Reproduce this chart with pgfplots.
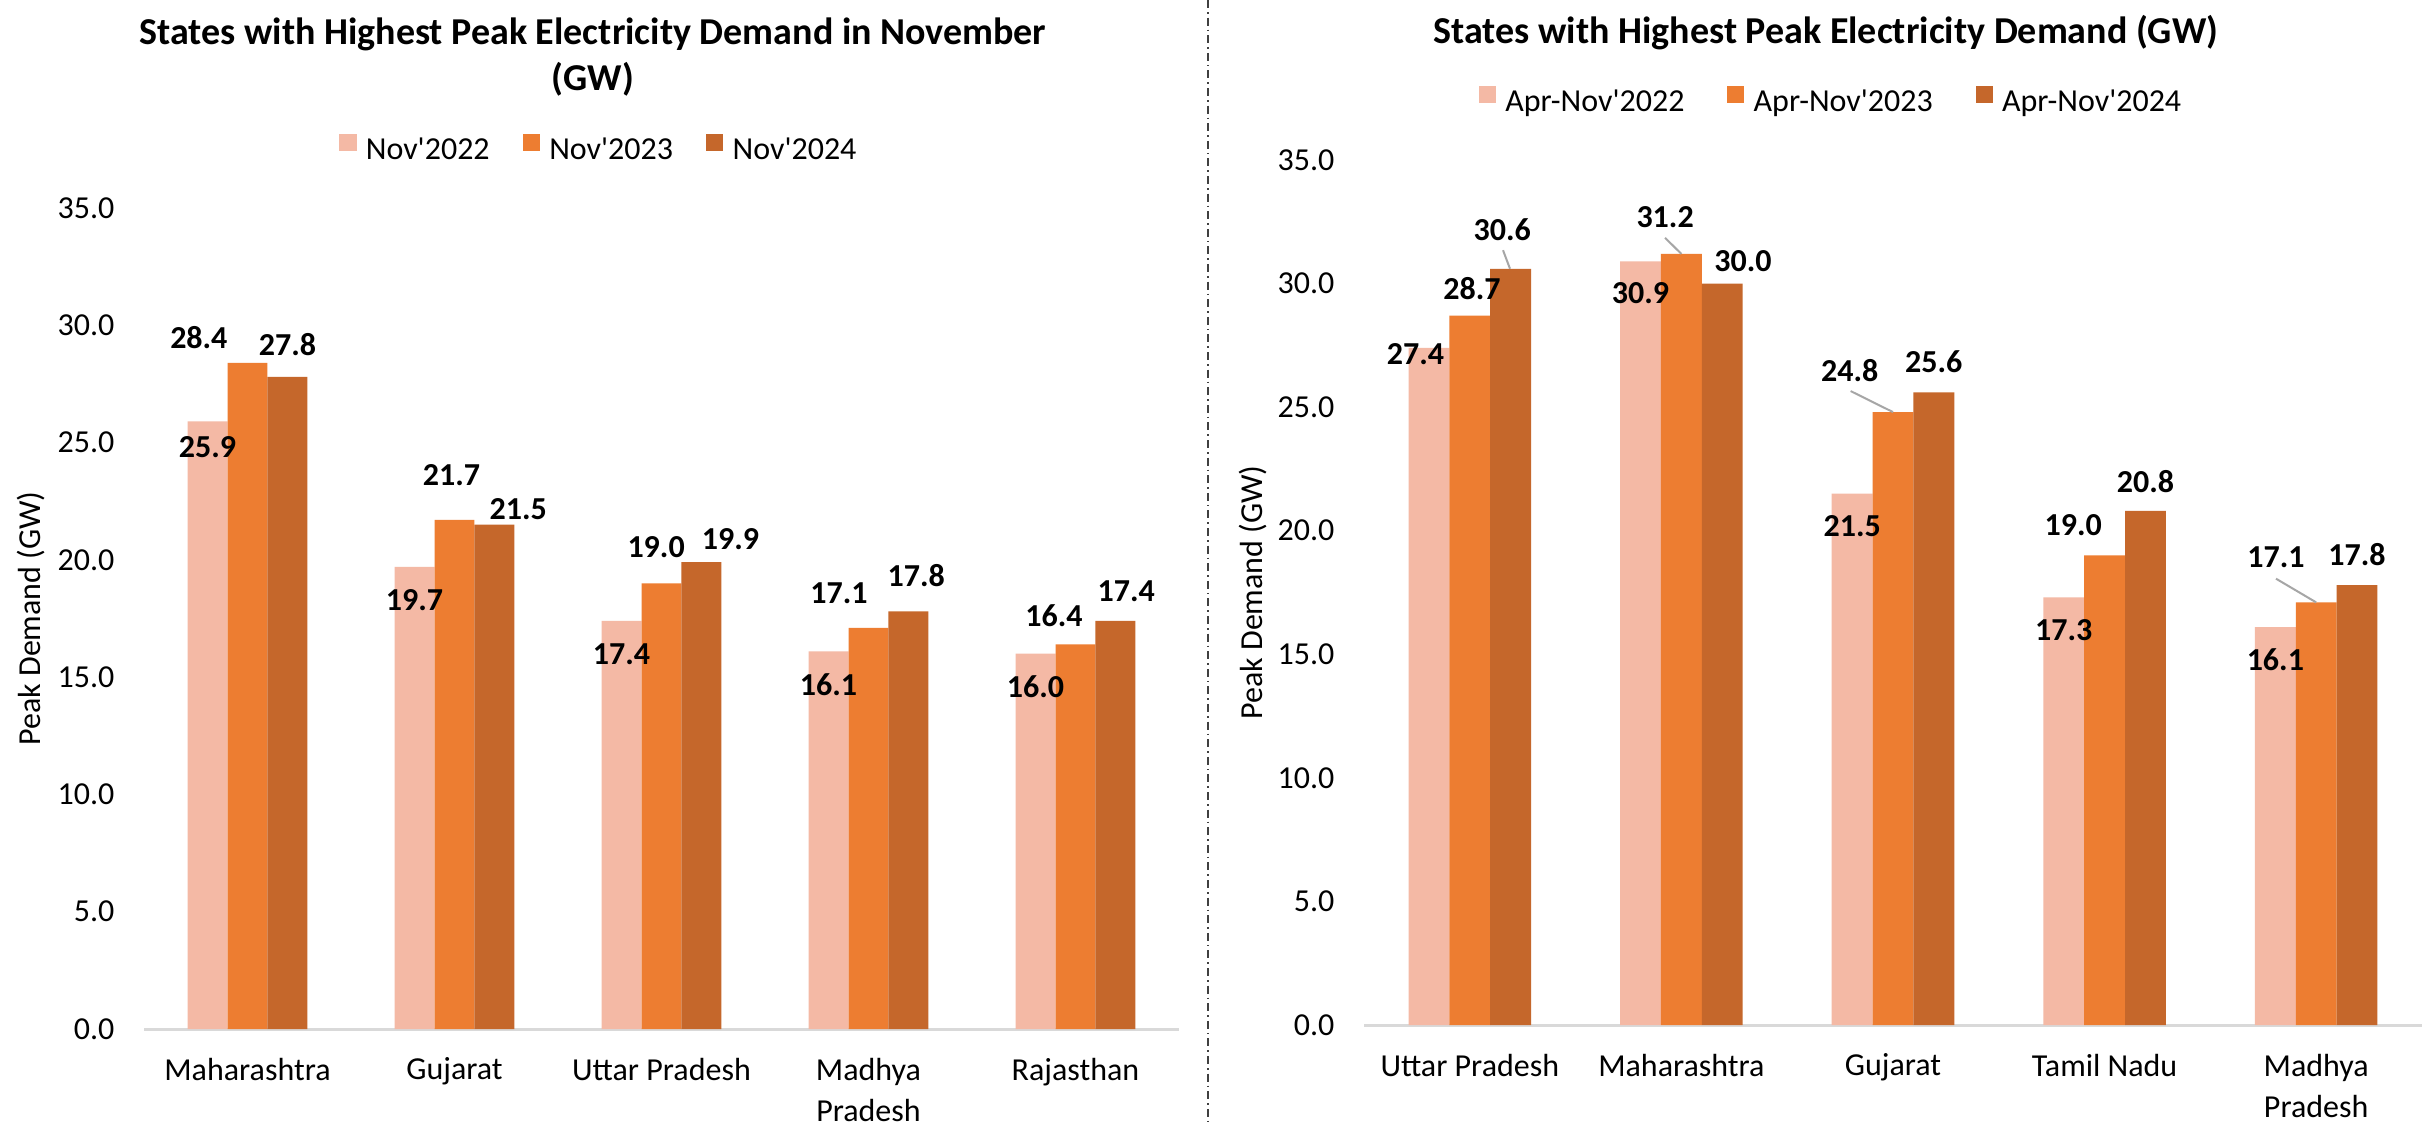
\documentclass[border=0pt]{standalone}
\usepackage{fontspec}
\setmainfont{Carlito}
\usepackage{pgfplots}
\pgfplotsset{compat=1.18}
\usepackage{pgfplotstable}

\definecolor{c22}{RGB}{244,185,165}
\definecolor{c23}{RGB}{237,125,49}
\definecolor{c24}{RGB}{197,103,43}
\definecolor{axgray}{RGB}{217,217,217}
\definecolor{leadgray}{RGB}{166,166,166}

% left chart: Nov  (dx, dy: label offset from bar top, axis units)
\pgfplotstableread{
x y dx dy
0 25.9 0 -1.09
1 19.7 0 -1.43
2 17.4 0 -1.44
3 16.1 0 -1.41
4 16.0 0 -1.40
}\LA
\pgfplotstableread{
x y dx dy
0 28.4 -0.235 1.09
1 21.7 -0.014 1.92
2 19.0 -0.026 1.53
3 17.1 -0.142 1.47
4 16.4 -0.104 1.21
}\LB
\pgfplotstableread{
x y dx dy
0 27.8 0 1.37
1 21.5 0.115 0.68
2 19.9 0.14 0.97
3 17.8 0.038 1.54
4 17.4 0.052 1.28
}\LC
% right chart: Apr-Nov
\pgfplotstableread{
x y dx dy
0 27.4 -0.064 -0.24
1 30.9 0 -1.30
2 21.5 0 -1.32
3 17.3 0 -1.32
4 16.1 0 -1.31
}\RA
\pgfplotstableread{
x y dx dy
0 28.7 0.01 1.08
1 31.2 -0.077 1.51
2 24.8 -0.204 1.70
3 19.0 -0.148 1.23
4 17.1 -0.19 1.84
}\RB
\pgfplotstableread{
x y dx dy
0 30.6 -0.04 1.59
1 30.0 0.098 0.89
2 25.6 0 1.22
3 20.8 0 1.20
4 17.8 0 1.23
}\RC

\newcommand{\tickfont}{\fontsize{8}{10.25}\selectfont}
\newcommand{\lblfont}{\fontsize{8}{9.6}\selectfont\bfseries}
\newcommand{\titlefont}{\fontsize{9.5}{11.5}\selectfont\bfseries}
\newcommand{\q}{\textquotesingle}

\pgfplotsset{
  mybars/.style={
    scale only axis,
    clip=false,
    xmin=-0.5, xmax=4.5, ymin=0, ymax=35,
    xtick={0,...,4},
    ytick={0,5,...,35},
    axis x line*=bottom, axis y line*=left,
    x axis line style={draw=axgray, line width=0.75pt, -},
    y axis line style={draw=none},
    major tick length=0pt,
    tick label style={font=\tickfont},
    /pgf/number format/.cd, fixed, fixed zerofill, precision=1, assume math mode=true,
    /pgfplots/.cd,
    yticklabel style={anchor=east, inner sep=0pt, xshift=-7.2pt},
    xticklabel style={align=center, anchor=north, inner sep=0pt, yshift=-7pt},
    ylabel={Peak Demand (GW)},
    ylabel style={font=\tickfont, anchor=center},
    legend columns=3,
    legend cell align=left,
    legend style={draw=none, fill=none, font=\tickfont, anchor=center,
      nodes={inner sep=0pt},
      /tikz/every odd column/.append style={column sep=2.3pt}},
  },
  bars/.style={ybar, bar width=0.193, bar shift=#1, draw=none,
    legend image code/.code={\fill[##1] (0pt,0.2pt) rectangle (4.3pt,4.5pt);}},
  labs/.style={only marks, mark=none, forget plot, nodes near coords,
    point meta=\thisrow{y},
    nodes near coords style={font=\lblfont, anchor=center, inner sep=0pt, text=black}},
  lead/.style={sharp plot, leadgray, line width=0.5pt, mark=none, forget plot},
}

\begin{document}
\begin{tikzpicture}
\useasboundingbox (0,0) rectangle (605.5pt,-281.25pt);
\fill[white] (0,0) rectangle (605.5pt,-281.25pt);

% separator
\draw[black!75, line width=0.35pt, dash pattern=on 2pt off 1pt on 0.4pt off 1pt] (302pt,0) -- (302pt,-281.25pt);

% titles
\node[font=\titlefont, anchor=base] at (148.25pt,-11pt) {States with Highest Peak Electricity Demand in November};
\node[font=\titlefont, anchor=base] at (148.25pt,-22.5pt) {(GW)};
\node[font=\titlefont, anchor=base] at (456.5pt,-10.75pt) {States with Highest Peak Electricity Demand (GW)};

% ---------------- left axis ----------------
\begin{axis}[mybars,
  at={(36pt,-257.25pt)}, anchor=south west,
  width=258.75pt, height=205.25pt,
  xticklabels={Maharashtra, Gujarat, Uttar Pradesh, {Madhya\\Pradesh}, Rajasthan},
  ylabel style={at={(axis description cs:-0.1092,0.5)}},
  legend style={at={(axis description cs:0.4386,1.0706)},
    /tikz/every even column/.append style={column sep=8.3pt}},
]
\addplot[bars=-0.193, fill=c22] table[x=x,y=y] {\LA};
\addplot[bars=0, fill=c23] table[x=x,y=y] {\LB};
\addplot[bars=0.193, fill=c24] table[x=x,y=y] {\LC};
\legend{Nov\q 2022, Nov\q 2023, Nov\q 2024}
\addplot[labs] table[x expr=\thisrow{x}-0.193+\thisrow{dx}, y expr=\thisrow{y}+\thisrow{dy}] {\LA};
\addplot[labs] table[x expr=\thisrow{x}+\thisrow{dx}, y expr=\thisrow{y}+\thisrow{dy}] {\LB};
\addplot[labs] table[x expr=\thisrow{x}+0.193+\thisrow{dx}, y expr=\thisrow{y}+\thisrow{dy}] {\LC};
\end{axis}

% ---------------- right axis ----------------
\begin{axis}[mybars,
  at={(341pt,-256.25pt)}, anchor=south west,
  width=264.5pt, height=216.25pt,
  xticklabels={Uttar Pradesh, Maharashtra, Gujarat, Tamil Nadu, {Madhya\\Pradesh}},
  ylabel style={at={(axis description cs:-0.1049,0.5)}},
  legend style={at={(axis description cs:0.4405,1.0671)},
    /tikz/every even column/.append style={column sep=10.7pt}},
]
\addplot[bars=-0.193, fill=c22] table[x=x,y=y] {\RA};
\addplot[bars=0, fill=c23] table[x=x,y=y] {\RB};
\addplot[bars=0.193, fill=c24] table[x=x,y=y] {\RC};
\legend{Apr-Nov\q 2022, Apr-Nov\q 2023, Apr-Nov\q 2024}
% leader lines
\addplot[lead] coordinates {(0.157,31.35) (0.19,30.6)};
\addplot[lead] coordinates {(0.923,31.85) (1.0,31.2)};
\addplot[lead] coordinates {(1.8,25.65) (2.0,24.8)};
\addplot[lead] coordinates {(3.81,18.06) (4.0,17.1)};
\addplot[labs] table[x expr=\thisrow{x}-0.193+\thisrow{dx}, y expr=\thisrow{y}+\thisrow{dy}] {\RA};
\addplot[labs] table[x expr=\thisrow{x}+\thisrow{dx}, y expr=\thisrow{y}+\thisrow{dy}] {\RB};
\addplot[labs] table[x expr=\thisrow{x}+0.193+\thisrow{dx}, y expr=\thisrow{y}+\thisrow{dy}] {\RC};
\end{axis}
\end{tikzpicture}
\end{document}
